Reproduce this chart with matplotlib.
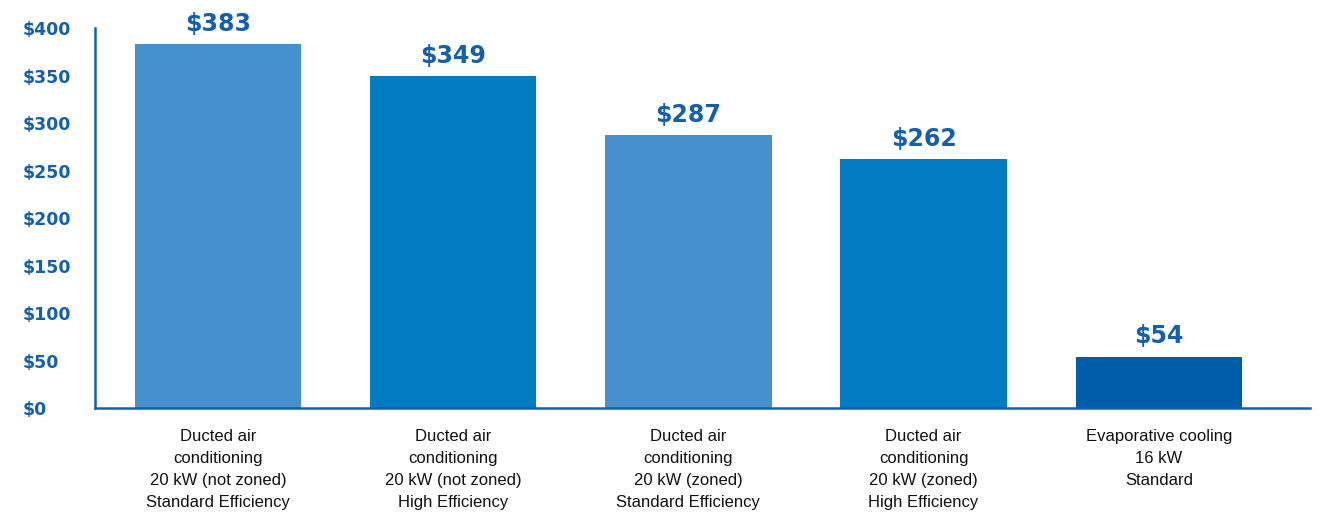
import matplotlib.pyplot as plt
from matplotlib import font_manager

categories = [
    "Ducted air\nconditioning\n20 kW (not zoned)\nStandard Efficiency",
    "Ducted air\nconditioning\n20 kW (not zoned)\nHigh Efficiency",
    "Ducted air\nconditioning\n20 kW (zoned)\nStandard Efficiency",
    "Ducted air\nconditioning\n20 kW (zoned)\nHigh Efficiency",
    "Evaporative cooling\n16 kW\nStandard",
]
costs = [383, 349, 287, 262, 54]
bar_colors = ["#4690CD", "#037CC2", "#4690CD", "#037CC2", "#005DAA"]
yticks = [0, 50, 100, 150, 200, 250, 300, 350, 400]
ytick_labels = ["$" + str(v) for v in yticks]

names = [f.name for f in font_manager.fontManager.ttflist]
if "Liberation Sans Narrow" in names:
    cat_font = "Liberation Sans Narrow"
    cat_size = 13
else:
    cat_font = "Liberation Sans"
    cat_size = 12

blue = "#1560AA"

fig = plt.figure(figsize=(13.25, 5.14), dpi=100)
ax = fig.add_axes([0.0717, 0.206, 0.917, 0.7395])

x = list(range(len(costs)))
ax.bar(x, costs, width=0.707, color=bar_colors, zorder=2)

for xi, v in zip(x, costs):
    ax.annotate("$" + str(v), (xi, v), xytext=(0, 6), textcoords="offset points",
                ha="center", va="bottom", fontsize=17, fontweight="bold", color=blue)

ax.set_xlim(-0.523, 4.643)
ax.set_ylim(0, 400)
ax.set_yticks(yticks)
ax.set_yticklabels(ytick_labels, fontsize=12.5, fontweight="bold", color=blue)
ax.set_xticks(x)
ax.set_xticklabels(categories, fontsize=cat_size, family=cat_font, color="#111111", linespacing=1.58)
for lab in ax.get_yticklabels():
    lab.set_horizontalalignment("left")
ax.tick_params(axis="y", length=0, pad=52)
ax.tick_params(axis="x", length=0, pad=15)

for s in ["top", "right"]:
    ax.spines[s].set_visible(False)
ax.spines["left"].set_color(blue)
ax.spines["bottom"].set_color(blue)
ax.spines["left"].set_linewidth(1.8)
ax.spines["bottom"].set_linewidth(1.8)

fig.savefig("out.png", dpi=100)
